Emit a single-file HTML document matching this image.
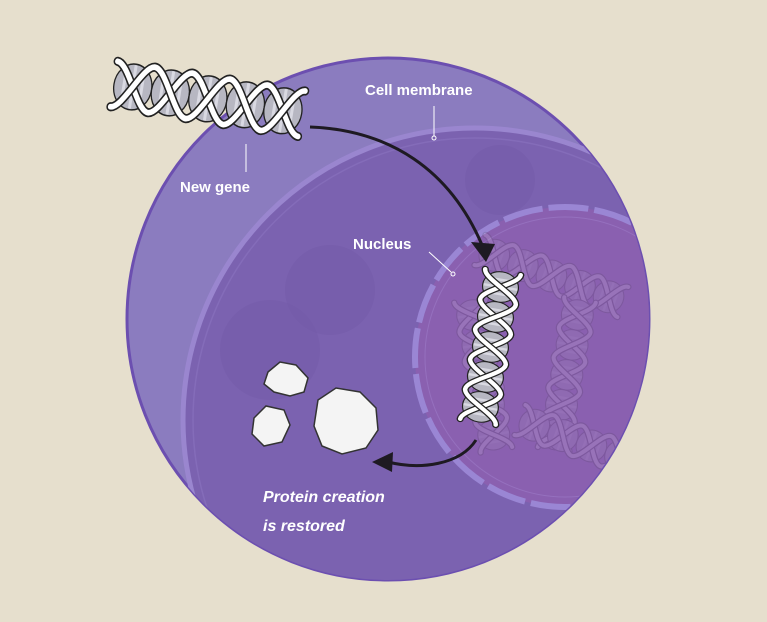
<!DOCTYPE html>
<html><head><style>
html,body{margin:0;padding:0;background:#e6dfcd;width:767px;height:622px;overflow:hidden;}
svg{display:block}
text{font-family:"Liberation Sans",sans-serif;font-weight:bold;fill:#fff;}
</style></head><body>
<svg width="767" height="622" viewBox="0 0 767 622">
<defs>
<clipPath id="cell"><circle cx="388" cy="319" r="261"/></clipPath>
<g id="helix">
  <g fill="#b7b7c2" stroke="#222" stroke-width="1.3">
    <ellipse cx="19" cy="0" rx="19" ry="20"/>
    <ellipse cx="57" cy="0" rx="19" ry="20"/>
    <ellipse cx="95" cy="0" rx="19" ry="20"/>
    <ellipse cx="133" cy="0" rx="19" ry="20"/>
    <ellipse cx="171" cy="0" rx="19" ry="20"/>
  </g>
  <g stroke="#e2e2ea" stroke-width="3" opacity=".8">
    <path d="M10 -16V16M19 -19V19M28 -16V16M48 -16V16M57 -19V19M66 -16V16M86 -16V16M95 -19V19M104 -16V16M124 -16V16M133 -19V19M142 -16V16M162 -16V16M171 -19V19M180 -16V16"/>
  </g>
  <g fill="none" stroke-linecap="round">
    <path d="M0 -20 C12 -20 26 20 38 20 C50 20 64 -20 76 -20 C88 -20 102 20 114 20 C126 20 140 -20 152 -20 C164 -20 178 20 190 20" stroke="#222" stroke-width="8"/>
    <path d="M0 -20 C12 -20 26 20 38 20 C50 20 64 -20 76 -20 C88 -20 102 20 114 20 C126 20 140 -20 152 -20 C164 -20 178 20 190 20" stroke="#fff" stroke-width="5"/>
    <path d="M0 20 C12 20 26 -20 38 -20 C50 -20 64 20 76 20 C88 20 102 -20 114 -20 C126 -20 140 20 152 20 C164 20 178 -20 190 -20" stroke="#222" stroke-width="8"/>
    <path d="M0 20 C12 20 26 -20 38 -20 C50 -20 64 20 76 20 C88 20 102 -20 114 -20 C126 -20 140 20 152 20 C164 20 178 -20 190 -20" stroke="#fff" stroke-width="5"/>
  </g>
</g>
</defs>
<rect width="767" height="622" fill="#e6dfcd"/>
<circle cx="388" cy="319" r="261" fill="#8b7cbf" stroke="#6c4fb0" stroke-width="3"/>
<g clip-path="url(#cell)">
  <circle cx="475" cy="420" r="292" fill="#7b62b0" stroke="#9a86cf" stroke-width="5"/>
  <circle cx="475" cy="420" r="282" fill="none" stroke="#8a73c0" stroke-width="1.5" opacity=".6"/>
  <circle cx="330" cy="290" r="45" fill="#7359a8" opacity=".5"/>
  <circle cx="270" cy="350" r="50" fill="#7359a8" opacity=".4"/>
  <circle cx="500" cy="180" r="35" fill="#7359a8" opacity=".4"/>
  <circle cx="565" cy="357" r="150" fill="#8a60b0" stroke="#9a86d4" stroke-width="6" stroke-dasharray="40 6"/>
  <circle cx="565" cy="357" r="140" fill="none" stroke="#9c7cc8" stroke-width="1" opacity=".6"/>
  <g opacity=".12">
    <use href="#helix" transform="translate(480,250) rotate(20) scale(0.8)"/>
    <use href="#helix" transform="translate(470,300) rotate(80) scale(0.8)"/>
    <use href="#helix" transform="translate(580,300) rotate(100) scale(0.8)"/>
    <use href="#helix" transform="translate(520,420) rotate(20) scale(0.8)"/>
  </g>
</g>
<use href="#helix" transform="translate(114,84) rotate(9) scale(1,1.15)"/>
<use href="#helix" transform="translate(503,272) rotate(99.5) scale(0.8,0.9)"/>
<path d="M310 127 C390 130 450 170 482 245" fill="none" stroke="#1e1a22" stroke-width="3"/>
<polygon points="471,242 495,244 486,262" fill="#1e1a22"/>
<path d="M476 440 C460 465 420 470 388 462" fill="none" stroke="#1e1a22" stroke-width="3"/>
<polygon points="393,452 372,462 392,472" fill="#1e1a22"/>
<g fill="#f4f4f4" stroke="#333" stroke-width="1.5">
  <path d="M268 372 L280 362 L296 365 L308 378 L304 392 L290 396 L274 392 L264 384 Z"/>
  <path d="M254 418 L266 406 L284 410 L290 425 L282 442 L264 446 L252 434 Z"/>
  <path d="M318 400 L336 388 L360 392 L376 408 L378 430 L366 448 L342 454 L322 446 L314 426 Z"/>
</g>
<g stroke="#fff" stroke-width="1" fill="none">
  <line x1="434" y1="106" x2="434" y2="136"/><circle cx="434" cy="138" r="2"/>
  <line x1="246" y1="144" x2="246" y2="172"/>
  <line x1="429" y1="252" x2="451" y2="272"/><circle cx="453" cy="274" r="2"/>
</g>
<text x="365" y="95" font-size="15">Cell membrane</text>
<text x="180" y="192" font-size="15">New gene</text>
<text x="353" y="249" font-size="15">Nucleus</text>
<text x="263" y="502" font-size="16" font-style="italic">Protein creation</text>
<text x="263" y="531" font-size="16" font-style="italic">is restored</text>
</svg>
</body></html>
